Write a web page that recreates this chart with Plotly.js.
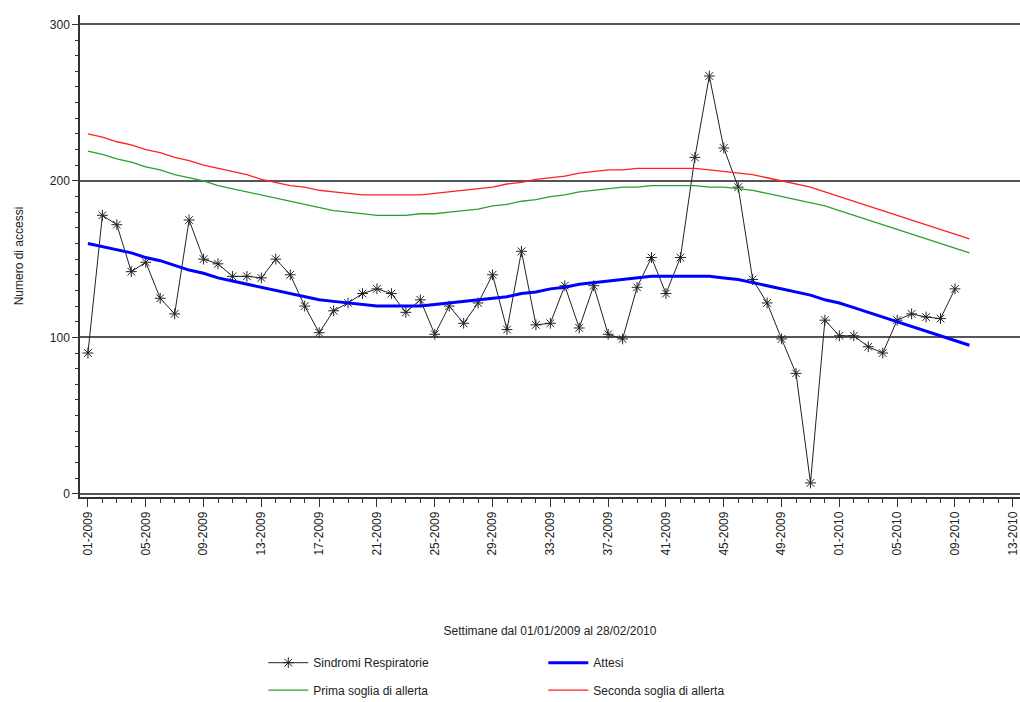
<!DOCTYPE html>
<html>
<head>
<meta charset="utf-8">
<script src="https://cdn.plot.ly/plotly-3.0.1.min.js"></script>
<style>body{margin:0;background:#fff}#chart{width:1020px;height:702px}</style>
</head>
<body>
<div id="chart"></div>
<script>
// weekly index 0 = 01-2009, 52 = 01-2010
const tickPos = [0, 4, 8, 12, 16, 20, 24, 28, 32, 36, 40, 44, 48, 52, 56, 60, 64];
const tickLabels = ['01-2009', '05-2009', '09-2009', '13-2009', '17-2009', '21-2009', '25-2009', '29-2009',
    '33-2009', '37-2009', '41-2009', '45-2009', '49-2009', '01-2010', '05-2010', '09-2010', '13-2010'];

const sindromi = [90, 178, 172, 142, 148, 125, 115, 175, 150, 147, 139, 139, 138, 150, 140, 120, 103, 117, 122, 128,
    131, 128, 116, 124, 102, 120, 109, 122, 140, 105, 155, 108, 109, 133, 106, 133, 102, 99, 132, 151,
    128, 151, 215, 267, 221, 196, 137, 122, 99, 77, 7, 111, 101, 101, 94, 90, 111, 115, 113, 112, 131];

const attesi = [160, 158, 156, 154, 151, 149, 146, 143, 141, 138, 136, 134, 132, 130, 128, 126, 124, 123, 122, 121,
    120, 120, 120, 120, 121, 122, 123, 124, 125, 126, 128, 129, 131, 132, 134, 135, 136, 137, 138, 139,
    139, 139, 139, 139, 138, 137, 135, 133, 131, 129, 127, 124, 122, 119, 116, 113, 110, 107, 104, 101, 98, 95];

const prima = [219, 217, 214, 212, 209, 207, 204, 202, 200, 197, 195, 193, 191, 189, 187, 185, 183, 181, 180, 179,
    178, 178, 178, 179, 179, 180, 181, 182, 184, 185, 187, 188, 190, 191, 193, 194, 195, 196, 196, 197,
    197, 197, 197, 196, 196, 195, 194, 192, 190, 188, 186, 184, 181, 178, 175, 172, 169, 166, 163, 160, 157, 154];

const seconda = [230, 228, 225, 223, 220, 218, 215, 213, 210, 208, 206, 204, 201, 199, 197, 196, 194, 193, 192, 191,
    191, 191, 191, 191, 192, 193, 194, 195, 196, 198, 199, 201, 202, 203, 205, 206, 207, 207, 208, 208,
    208, 208, 208, 207, 206, 205, 204, 202, 200, 198, 196, 193, 190, 187, 184, 181, 178, 175, 172, 169, 166, 163];

const idx = arr => arr.map((_, i) => i);

const data = [
    {x: idx(sindromi), y: sindromi, name: 'Sindromi Respiratorie', mode: 'lines+markers',
        line: {color: '#222', width: 1}, marker: {symbol: 'asterisk-open', size: 9, color: '#222', line: {width: 1, color: '#222'}},
        legend: 'legend'},
    {x: idx(attesi), y: attesi, name: 'Attesi', mode: 'lines', line: {color: '#0000ff', width: 3}, legend: 'legend'},
    {x: idx(prima), y: prima, name: 'Prima soglia di allerta', mode: 'lines', line: {color: '#2ca02c', width: 1.3}, legend: 'legend2'},
    {x: idx(seconda), y: seconda, name: 'Seconda soglia di allerta', mode: 'lines', line: {color: '#ff2020', width: 1.3}, legend: 'legend2'},
];

const legendBase = {
    orientation: 'h', yref: 'container', x: 0.195, xanchor: 'left', yanchor: 'middle',
    entrywidth: 225, font: {size: 12, color: '#222', family: 'Liberation Sans, Arial'},
    tracegroupgap: 0, itemwidth: 40,
};

const layout = {
    width: 1020, height: 702,
    margin: {l: 80, r: 0, t: 15, b: 205},
    paper_bgcolor: '#fff', plot_bgcolor: '#fff',
    font: {family: 'Liberation Sans, Arial', size: 12, color: '#222'},
    showlegend: true,
    legend: {...legendBase, y: 0.056},
    legend2: {...legendBase, y: 0.017},
    xaxis: {
        automargin: false,
        range: [-0.55, 64.5], tickmode: 'array', tickvals: tickPos, ticktext: tickLabels,
        tickangle: -90, ticks: 'outside', ticklen: 8, tickcolor: '#333',
        minor: {dtick: 1, ticks: 'outside', ticklen: 4, tickcolor: '#333'},
        showgrid: false, zeroline: false, showline: true, linecolor: '#333', linewidth: 1.5,
        title: {text: 'Settimane dal 01/01/2009 al 28/02/2010', standoff: 72, font: {size: 12}},
    },
    yaxis: {
        automargin: false,
        range: [-2, 306], tickvals: [0, 100, 200, 300], ticks: 'outside', ticklen: 6, tickcolor: '#333',
        minor: {dtick: 10, ticks: 'outside', ticklen: 3, tickcolor: '#333'},
        showgrid: true, gridcolor: '#555', gridwidth: 1.5, zeroline: false,
        showline: true, linecolor: '#333', linewidth: 1.5, mirror: true,
        title: {text: 'Numero di accessi', standoff: 24, font: {size: 12}},
    },
};

Plotly.newPlot('chart', data, layout, {displayModeBar: false});
</script>
</body>
</html>
